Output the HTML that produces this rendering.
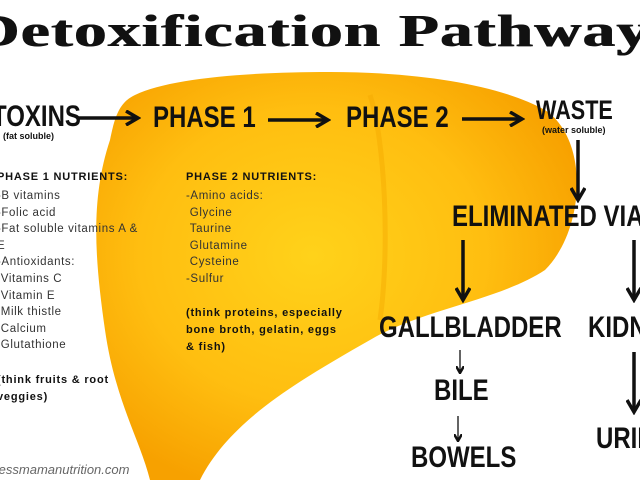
<!DOCTYPE html>
<html><head><meta charset="utf-8"><style>
html,body{margin:0;padding:0;background:#fff}
body{width:640px;height:480px;position:relative;overflow:hidden;font-family:"Liberation Sans",sans-serif;color:#111}
.t{position:absolute;white-space:nowrap}
.c{font-family:"Liberation Sans Narrow","Liberation Sans",sans-serif;font-weight:bold;color:#111}
.s{font-size:11.5px;line-height:16.6px;color:#333;letter-spacing:0.6px}
.b{font-weight:bold;color:#111;font-size:11px;letter-spacing:0.8px}
</style></head><body>
<svg width="640" height="480" style="position:absolute;left:0;top:0">
<defs>
<radialGradient id="g" cx="0.45" cy="0.45" r="0.6">
<stop offset="0" stop-color="#ffd21a"/><stop offset="0.6" stop-color="#ffbe10"/><stop offset="1" stop-color="#f7a100"/>
</radialGradient>
<marker id="a" markerWidth="8" markerHeight="8" refX="6" refY="4" orient="auto" markerUnits="userSpaceOnUse"><path d="M0,0 L7,4 L0,8" fill="none" stroke="#111" stroke-width="2.5"/></marker>
<marker id="a2" markerWidth="16" markerHeight="16" refX="13" refY="8" orient="auto" markerUnits="userSpaceOnUse"><path d="M1,1 L13,8 L1,15" fill="none" stroke="#111" stroke-width="3.5"/></marker>
</defs>
<path d="M135,95 C170,78 250,72 330,72 C420,72 500,85 545,110 C590,140 585,230 545,270 C500,300 420,310 370,340 C300,380 230,420 200,480 L150,480 C140,440 115,400 105,330 C95,260 90,200 110,140 C115,115 120,102 135,95 Z" fill="url(#g)"/>
<path d="M370,95 C385,140 390,250 380,320" fill="none" stroke="#f3a800" stroke-width="5" opacity="0.45"/>
<g stroke="#111" stroke-width="3.5" fill="none">
<line x1="78" y1="118" x2="138" y2="118" marker-end="url(#a2)"/>
<line x1="268" y1="120" x2="328" y2="120" marker-end="url(#a2)"/>
<line x1="462" y1="119" x2="522" y2="119" marker-end="url(#a2)"/>
<line x1="578" y1="140" x2="578" y2="200" marker-end="url(#a2)"/>
<line x1="463" y1="240" x2="463" y2="300" marker-end="url(#a2)"/>
<line x1="634" y1="240" x2="634" y2="300" marker-end="url(#a2)"/>
<line x1="634" y1="352" x2="634" y2="412" marker-end="url(#a2)"/>
</g>
<g stroke="#111" stroke-width="1.3" fill="none">
<line x1="460" y1="350" x2="460" y2="372" marker-end="url(#a)"/>
<line x1="458" y1="416" x2="458" y2="440" marker-end="url(#a)"/>
</g>
</svg>
<div class="t" style="left:-28px;top:4px;font-family:'Liberation Serif',serif;font-weight:bold;font-size:46px;letter-spacing:1px;color:#111;transform:scaleX(1.41);transform-origin:left;text-shadow:1px 0 0 #111">Detoxification Pathway</div>
<div class="t c" style="left:-8px;top:100px;font-size:30px;transform:scaleX(0.8);transform-origin:left">TOXINS</div>
<div class="t" style="left:3px;top:131px;font-size:9px;font-weight:bold">(fat soluble)</div>
<div class="t c" style="left:153px;top:101px;font-size:30px;transform:scaleX(0.8);transform-origin:left">PHASE 1</div>
<div class="t c" style="left:346px;top:101px;font-size:30px;transform:scaleX(0.8);transform-origin:left">PHASE 2</div>
<div class="t c" style="left:536px;top:95px;font-size:27px;transform:scaleX(0.8);transform-origin:left">WASTE</div>
<div class="t" style="left:542px;top:125px;font-size:9px;font-weight:bold">(water soluble)</div>
<div class="t c" style="left:452px;top:200px;font-size:30px;transform:scaleX(0.8);transform-origin:left">ELIMINATED VIA</div>
<div class="t c" style="left:379px;top:311px;font-size:30px;transform:scaleX(0.8);transform-origin:left">GALLBLADDER</div>
<div class="t c" style="left:588px;top:311px;font-size:30px;transform:scaleX(0.8);transform-origin:left">KIDNEYS</div>
<div class="t c" style="left:434px;top:374px;font-size:30px;transform:scaleX(0.8);transform-origin:left">BILE</div>
<div class="t c" style="left:411px;top:441px;font-size:30px;transform:scaleX(0.8);transform-origin:left">BOWELS</div>
<div class="t c" style="left:596px;top:422px;font-size:30px;transform:scaleX(0.8);transform-origin:left">URINE</div>
<div class="t b" style="left:-3px;top:171px">PHASE 1 NUTRIENTS:</div>
<div class="t s" style="left:-3px;top:188px">-B vitamins<br>-Folic acid<br>-Fat soluble vitamins A &amp;<br>E<br>-Antioxidants:<br>&nbsp;Vitamins C<br>&nbsp;Vitamin E<br>&nbsp;Milk thistle<br>&nbsp;Calcium<br>&nbsp;Glutathione</div>
<div class="t b" style="left:-3px;top:372px;line-height:17px">(think fruits &amp; root<br>veggies)</div>
<div class="t b" style="left:186px;top:171px">PHASE 2 NUTRIENTS:</div>
<div class="t s" style="left:186px;top:188px">-Amino acids:<br>&nbsp;Glycine<br>&nbsp;Taurine<br>&nbsp;Glutamine<br>&nbsp;Cysteine<br>-Sulfur</div>
<div class="t b" style="left:186px;top:305px;line-height:17px">(think proteins, especially<br>bone broth, gelatin, eggs<br>&amp; fish)</div>
<div class="t" style="left:-62px;top:462px;font-size:13px;color:#666;font-style:italic">www.wellnessmamanutrition.com</div>
</body></html>
